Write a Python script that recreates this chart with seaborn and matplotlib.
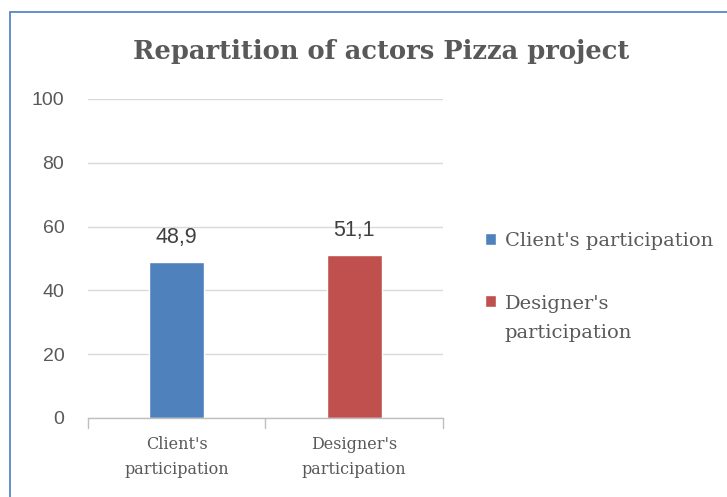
import numpy as np
import pandas as pd
import matplotlib.pyplot as plt
import seaborn as sns
from matplotlib.patches import Rectangle

categories = ["Client's participation", "Designer's participation"]
tick_labels = ["Client's\nparticipation", "Designer's\nparticipation"]
legend_labels = ["Client's participation", "Designer's\nparticipation"]
values = [48.9, 51.1]
value_labels = ["48,9", "51,1"]
colors = ["#4F81BD", "#C0504D"]
y_ticks = [0, 20, 40, 60, 80, 100]

sns.set_style("white")
plt.rcParams['font.family'] = ['DejaVu Serif']

df = pd.DataFrame({'category': categories, 'value': values})

fig = plt.figure(figsize=(7.27, 4.97), dpi=100)
ax = fig.add_axes([0.121, 0.159, 0.488, 0.642])

sns.barplot(data=df, x='category', y='value', hue='category', palette=colors,
            dodge=False, width=0.31, legend=True, ax=ax, saturation=1)

ax.set_ylim(0, 100)
ax.set_xlim(-0.5, 1.5)
ax.set_yticks(y_ticks)
ax.set_yticklabels([str(t) for t in y_ticks], family='Liberation Sans',
                   fontsize=14, color='#595959')
ax.set_xticks([0, 1])
ax.set_xticklabels(tick_labels, fontsize=11.5, color='#595959', linespacing=1.62)
ax.tick_params(axis='x', length=0, pad=13)
ax.tick_params(axis='y', length=0, pad=17)
ax.set_xlabel('')
ax.set_ylabel('')
ax.yaxis.grid(True, color='#D9D9D9', lw=1)
ax.set_axisbelow(True)
for s in ['left', 'right', 'top']:
    ax.spines[s].set_visible(False)
ax.spines['bottom'].set_color('#BFBFBF')
ax.spines['bottom'].set_linewidth(1)

# category boundary ticks on the axis
for xb in [-0.5, 0.5, 1.5]:
    ax.plot([xb, xb], [0, -3], color='#BFBFBF', lw=1, clip_on=False)

for cont, lab in zip(ax.containers, value_labels):
    ax.bar_label(cont, labels=[lab], padding=10, fontsize=15.5,
                 family='Liberation Sans', color='#404040')

handles, _ = ax.get_legend_handles_labels()
leg = ax.legend(handles, legend_labels, loc='upper left',
                bbox_to_anchor=(1.07, 0.637), frameon=False, fontsize=14,
                handlelength=0.55, handleheight=0.55, handletextpad=0.45,
                labelspacing=2.3)
for t in leg.get_texts():
    t.set_color('#595959')
    t.set_linespacing(1.79)
# align the second marker with the first line of its wrapped label
h2 = leg.legend_handles[1]
h2.set_y(h2.get_y() + 0.5 * 1.79 * 14)

fig.text(0.524, 0.897, 'Repartition of actors Pizza project', ha='center',
         va='center', fontsize=18.5, fontweight='bold', color='#595959')

# outer chart frame
fig.patches.append(Rectangle((0.014, -0.02), 1.0, 0.996, transform=fig.transFigure,
                             fill=False, edgecolor='#5B87C5', lw=1.3))

fig.savefig('out.png', dpi=100)
